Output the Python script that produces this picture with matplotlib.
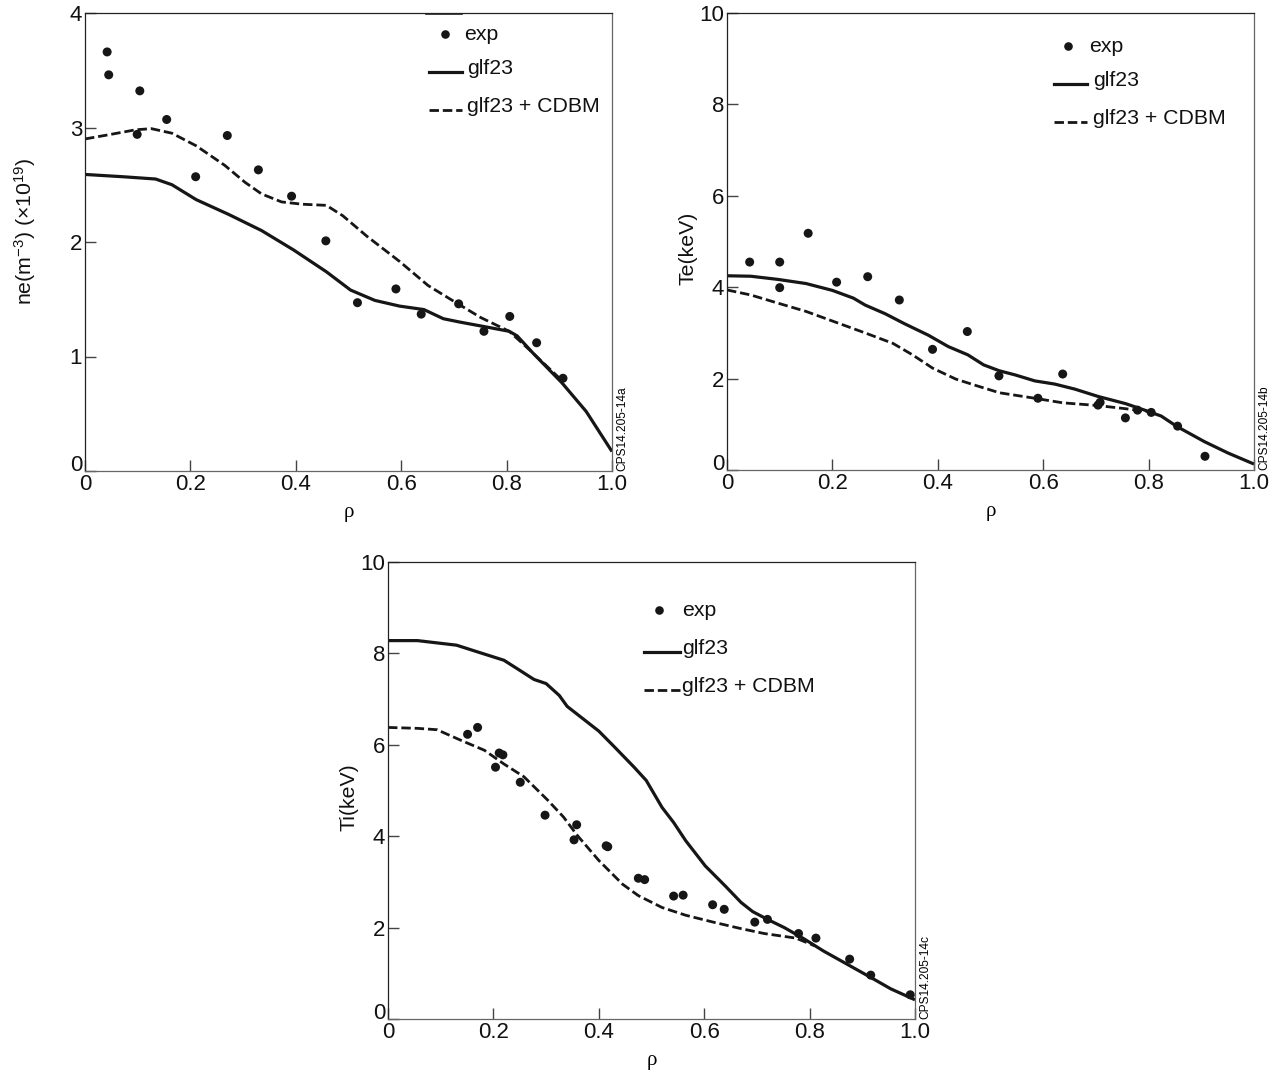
#!/usr/bin/env python3
"""Three profile panels (ne, Te, Ti) against rho: experiment and two model curves."""

import matplotlib
matplotlib.use("Agg")
import matplotlib.pyplot as plt

plt.rcParams["font.family"] = ["Liberation Sans", "DejaVu Sans"]
plt.rcParams["mathtext.default"] = "regular"

W, H = 1281, 1073

# ne panel
ne_exp_x = [0.042, 0.045, 0.099, 0.104, 0.155, 0.21, 0.27, 0.329, 0.392, 0.457, 0.517, 0.59, 0.638, 0.709, 0.757, 0.806, 0.857, 0.907]
ne_exp_y = [3.66, 3.46, 2.94, 3.32, 3.07, 2.57, 2.93, 2.63, 2.40, 2.01, 1.47, 1.59, 1.37, 1.46, 1.22, 1.35, 1.12, 0.81]
ne_glf_x = [0, 0.072, 0.134, 0.165, 0.211, 0.273, 0.335, 0.396, 0.458, 0.504, 0.55, 0.597, 0.643, 0.68, 0.712, 0.759, 0.805, 0.82, 0.85, 0.905, 0.951, 1.0]
ne_glf_y = [2.59, 2.57, 2.55, 2.50, 2.37, 2.24, 2.10, 1.93, 1.74, 1.58, 1.49, 1.44, 1.41, 1.33, 1.30, 1.26, 1.22, 1.18, 1.03, 0.77, 0.52, 0.17]
ne_cdbm_x = [0, 0.049, 0.096, 0.126, 0.165, 0.211, 0.265, 0.304, 0.335, 0.373, 0.412, 0.458, 0.489, 0.535, 0.597, 0.651, 0.697, 0.751, 0.805, 0.843, 0.905]
ne_cdbm_y = [2.90, 2.94, 2.98, 2.99, 2.95, 2.84, 2.67, 2.52, 2.42, 2.35, 2.33, 2.32, 2.23, 2.05, 1.83, 1.62, 1.49, 1.34, 1.22, 1.06, 0.79]

# Te panel
te_exp_x = [0.043, 0.10, 0.10, 0.154, 0.208, 0.267, 0.327, 0.39, 0.456, 0.516, 0.59, 0.637, 0.704, 0.708, 0.756, 0.779, 0.805, 0.855, 0.907]
te_exp_y = [4.55, 4.55, 3.99, 5.18, 4.11, 4.23, 3.72, 2.64, 3.03, 2.06, 1.57, 2.10, 1.42, 1.48, 1.14, 1.31, 1.26, 0.96, 0.30]
te_glf_x = [0, 0.045, 0.097, 0.15, 0.20, 0.24, 0.262, 0.30, 0.337, 0.382, 0.42, 0.457, 0.487, 0.517, 0.547, 0.584, 0.622, 0.66, 0.704, 0.757, 0.80, 0.824, 0.854, 0.906, 0.951, 1.0]
te_glf_y = [4.25, 4.24, 4.17, 4.08, 3.93, 3.76, 3.61, 3.42, 3.20, 2.95, 2.70, 2.52, 2.30, 2.17, 2.08, 1.95, 1.88, 1.77, 1.61, 1.45, 1.28, 1.18, 0.95, 0.62, 0.37, 0.13]
te_cdbm_x = [0, 0.045, 0.097, 0.15, 0.20, 0.262, 0.315, 0.352, 0.39, 0.434, 0.472, 0.517, 0.584, 0.637, 0.704, 0.757, 0.80]
te_cdbm_y = [3.94, 3.83, 3.65, 3.47, 3.26, 3.00, 2.77, 2.52, 2.23, 1.99, 1.85, 1.69, 1.57, 1.47, 1.41, 1.34, 1.28]

# Ti panel
ti_exp_x = [0.151, 0.17, 0.204, 0.211, 0.218, 0.251, 0.298, 0.353, 0.358, 0.414, 0.417, 0.475, 0.487, 0.542, 0.56, 0.616, 0.638, 0.696, 0.72, 0.779, 0.812, 0.876, 0.916, 0.991]
ti_exp_y = [6.23, 6.38, 5.51, 5.82, 5.78, 5.18, 4.46, 3.92, 4.25, 3.79, 3.77, 3.08, 3.05, 2.69, 2.71, 2.50, 2.40, 2.12, 2.18, 1.87, 1.77, 1.31, 0.96, 0.53]
ti_glf_x = [0, 0.056, 0.13, 0.168, 0.22, 0.25, 0.277, 0.30, 0.325, 0.34, 0.37, 0.40, 0.43, 0.467, 0.49, 0.52, 0.542, 0.565, 0.602, 0.64, 0.67, 0.692, 0.72, 0.752, 0.79, 0.826, 0.871, 0.916, 0.954, 1.0]
ti_glf_y = [8.28, 8.28, 8.18, 8.04, 7.85, 7.63, 7.43, 7.34, 7.08, 6.84, 6.57, 6.30, 5.95, 5.51, 5.22, 4.63, 4.30, 3.90, 3.35, 2.91, 2.55, 2.35, 2.18, 2.00, 1.75, 1.49, 1.20, 0.91, 0.66, 0.42]
ti_cdbm_x = [0, 0.056, 0.093, 0.138, 0.183, 0.22, 0.258, 0.303, 0.333, 0.359, 0.40, 0.445, 0.475, 0.52, 0.565, 0.617, 0.669, 0.714, 0.774, 0.81]
ti_cdbm_y = [6.38, 6.36, 6.33, 6.10, 5.88, 5.58, 5.30, 4.79, 4.42, 4.02, 3.47, 2.95, 2.70, 2.44, 2.27, 2.12, 1.98, 1.87, 1.77, 1.60]

x_ticks = [0, 0.2, 0.4, 0.6, 0.8, 1.0]
x_labels = ["0", "0.2", "0.4", "0.6", "0.8", "1.0"]

INK = "#161616"


def panel(fig, box, ymax, yticks, ylabel, ylabel_pos, code, series, leg):
    left, top, right, bottom = box
    ax = fig.add_axes([left / W, 1 - bottom / H, (right - left) / W, (bottom - top) / H])
    exp_x, exp_y, glf_x, glf_y, cd_x, cd_y = series
    ax.plot(glf_x, glf_y, color=INK, lw=2.3, solid_capstyle="butt")
    ax.plot(cd_x, cd_y, color=INK, lw=2.0, dashes=(3.4, 1.4))
    ax.scatter(exp_x, exp_y, s=42, color=INK, edgecolor="none", zorder=3, clip_on=False)
    ax.set_xlim(0, 1)
    ax.set_ylim(0, ymax)
    ax.set_xticks(x_ticks)
    ax.set_xticklabels(x_labels, fontsize=16)
    ax.set_yticks(yticks)
    ax.set_yticklabels([str(t) for t in yticks], fontsize=16)
    ax.tick_params(direction="in", length=8, width=1, color="#444444", labelcolor="#111111")
    ax.tick_params(axis="x", pad=2)
    ax.tick_params(axis="y", pad=2)
    # the zero on the y axis sits above its tick in the original
    ax.get_yticklabels()[0].set_verticalalignment("baseline")
    ax.set_xlabel("ρ", family=["Liberation Serif", "DejaVu Serif"], fontsize=15, labelpad=6)
    fig.text(ylabel_pos[0] / W, 1 - ylabel_pos[1] / H, ylabel, rotation=90, fontsize=15.3,
             ha="center", va="center", color="#111111")
    for s in ax.spines.values():
        s.set_linewidth(0.9)
        s.set_color("#222222")
    ax.spines["bottom"].set_color("#666666")
    ax.spines["right"].set_color("#666666")
    ax.text(1.008, 0.0, code, transform=ax.transAxes, rotation=90, fontsize=8.6,
            ha="left", va="bottom")

    # hand drawn legend, placed in pixels as in the original figure
    def px(x, y):
        return (x - left) / (right - left), (bottom - y) / (bottom - top)

    dot_x, dot_y, line_a, line_b, exp_tx, text_x, y1, y2, y3 = leg
    ax.plot(*px(dot_x, dot_y), "o", ms=6.2, color=INK, mec="none", transform=ax.transAxes)
    ax.plot([px(line_a, 0)[0], px(line_b, 0)[0]], [px(0, y2 + 3)[1]] * 2, color=INK,
            lw=2.3, transform=ax.transAxes)
    ax.plot([px(line_a, 0)[0], px(line_b, 0)[0]], [px(0, y3 + 3)[1]] * 2, color=INK,
            lw=2.0, dashes=(3.4, 1.4), transform=ax.transAxes)
    for y, t, xo in ((y1, "exp", exp_tx), (y2, "glf23", text_x), (y3, "glf23 + CDBM", text_x)):
        ax.text(*px(xo, y), t, transform=ax.transAxes, fontsize=15.3, va="center", ha="left",
                color="#111111")
    return ax


def main():
    fig = plt.figure(figsize=(W / 100, H / 100), dpi=100)
    panel(fig, (85, 13, 612, 471), 4, [0, 1, 2, 3, 4], r"ne(m$^{-3}$) (×10$^{19}$)", (25, 231), "CPS14.205-14a",
          (ne_exp_x, ne_exp_y, ne_glf_x, ne_glf_y, ne_cdbm_x, ne_cdbm_y),
          (445, 34, 429, 462, 464, 467, 35, 69, 107))
    panel(fig, (727, 13, 1254, 470), 10, [0, 2, 4, 6, 8, 10], "Te(keV)", (688, 248), "CPS14.205-14b",
          (te_exp_x, te_exp_y, te_glf_x, te_glf_y, te_cdbm_x, te_cdbm_y),
          (1068, 46, 1054, 1087, 1089, 1093, 47, 81, 119))
    panel(fig, (388, 562, 915, 1019), 10, [0, 2, 4, 6, 8, 10], "Ti(keV)", (349, 797), "CPS14.205-14c",
          (ti_exp_x, ti_exp_y, ti_glf_x, ti_glf_y, ti_cdbm_x, ti_cdbm_y),
          (659, 610, 644, 680, 682, 682, 611, 649, 687))
    # short stray rule above the first legend
    fig.add_artist(plt.Line2D([426 / W, 462 / W], [1 - 14 / H] * 2, color="#222222", lw=1.2))
    fig.savefig("out.png", dpi=100)
    plt.close(fig)


if __name__ == "__main__":
    main()
